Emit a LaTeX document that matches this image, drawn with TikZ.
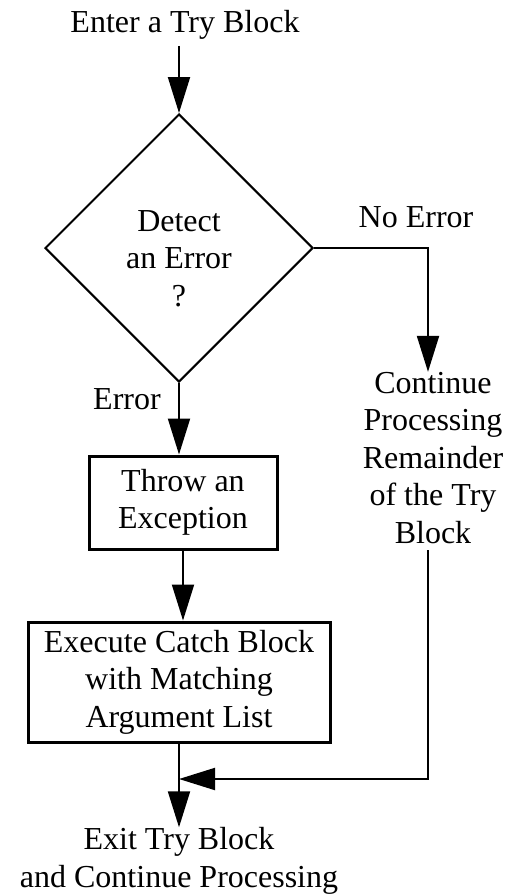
\documentclass[tikz,border=0pt]{standalone}
\usepackage{fontspec}
\setmainfont{Liberation Serif}
\usetikzlibrary{shapes.geometric,arrows.meta}

\tikzset{
    txt/.style={font=\fontsize{16}{18.75}\selectfont, align=center, inner sep=0pt},
    stepbox/.style={txt, draw, line width=1.5pt},
    decide/.style={txt, draw, shape=diamond, line width=1pt, minimum width=134pt, minimum height=134pt},
    flow/.style={line width=1pt, -{Triangle[length=18pt,width=11pt]}},
}

\begin{document}
\begin{tikzpicture}[x=0.5pt,y=-0.5pt]
    \useasboundingbox (0,0) rectangle (504,894);

    \node[txt]     (enter)  at (185,25)    {Enter a Try Block};
    % the strut pushes the question text a little below the middle
    \node[decide]  (detect) at (179,248)   {\rule{0pt}{21pt}Detect\\an Error\\?};
    \node[txt]     (noerr)  at (416,217)   {No Error};
    \node[txt]     (err)    at (127,399)   {Error};
    \node[stepbox, minimum width=94pt, minimum height=46.5pt] (throw) at (183,502.5) {Throw an\\Exception};
    \node[stepbox, minimum width=151pt, minimum height=60pt] (catch) at (179,682) {Execute Catch Block\\with Matching\\Argument List};
    \node[txt]     (cont)   at (433,458)   {Continue\\Processing\\Remainder\\of the Try\\Block};
    \node[txt]     (exit)   at (179,861)   {Exit Try Block\\and Continue Processing};

    \coordinate (nobranch) at (428,248);
    \coordinate (merge)    at (179,779);

    \draw[flow, shorten <=3pt] (enter.south -| detect.north) -- (detect.north);
    \draw[flow] (detect.east) -- (nobranch) -- (nobranch |- cont.north);
    \draw[flow] (detect.south) -- (detect.south |- throw.north);
    \draw[flow] (throw.south) -- (throw.south |- catch.north);
    \draw[flow] (catch.south) -- (catch.south |- exit.north);
    \draw[flow, shorten <=3pt] (nobranch |- cont.south) |- (merge);
\end{tikzpicture}
\end{document}
